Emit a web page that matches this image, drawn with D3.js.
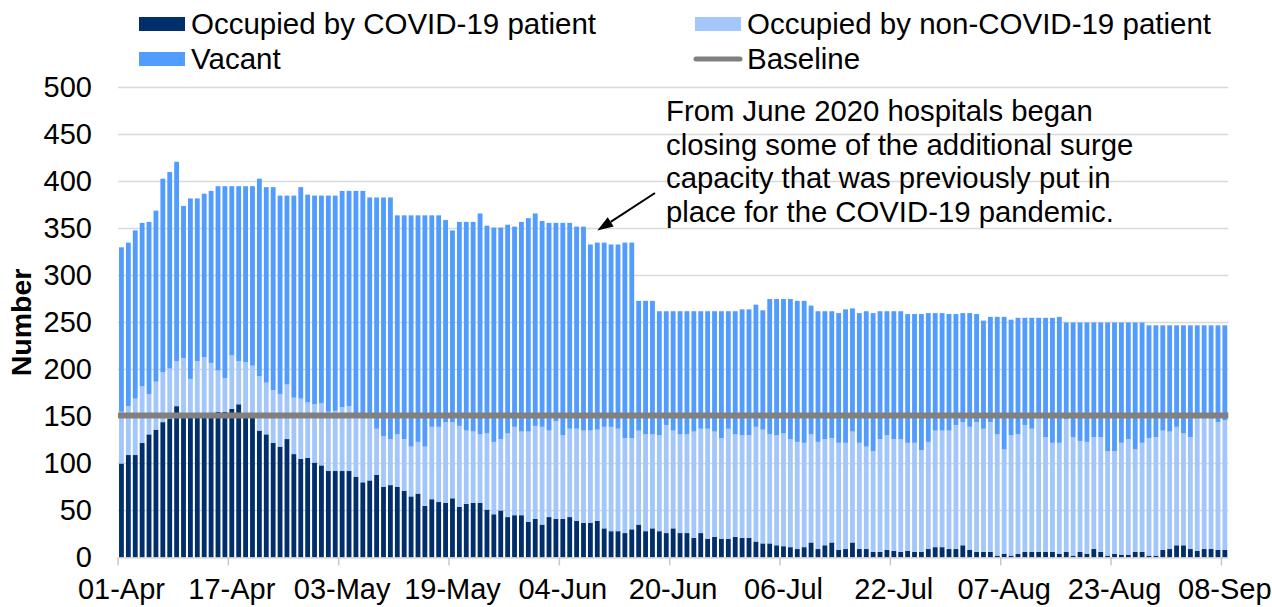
<!DOCTYPE html>
<html>
<head>
<meta charset="utf-8">
<script src="https://cdn.jsdelivr.net/npm/d3@7"></script>
<style>
  body { margin: 0; background: #fff; }
  text { font-family: 'Liberation Sans', Arial, sans-serif; fill: #000; }
</style>
</head>
<body>
<div id="chart"></div>
<script>
// daily bed counts from 01-Apr-2020
const covid = [
  100,109,109,122,131,136,144,148,161,153,152,150,152,150,155,155,
  158,163,152,150,135,131,122,118,126,110,105,106,101,98,92,92,
  92,92,86,80,82,88,75,77,75,71,65,68,55,62,59,58,
  63,54,57,58,58,51,46,50,43,45,45,38,41,35,43,41,
  41,43,39,37,37,39,31,28,28,26,30,35,28,31,28,26,
  31,26,26,21,26,20,22,20,20,22,21,21,17,15,15,13,
  12,11,9,11,16,9,13,16,8,9,16,9,9,6,6,8,
  7,6,7,6,6,9,11,11,9,9,13,8,6,6,6,2,
  4,2,4,6,6,6,6,6,4,6,2,6,4,9,6,2,
  4,3,3,6,6,2,2,8,9,13,13,9,7,9,9,8,
  8
]
const nonCovid = [
  55,52,60,60,43,51,53,53,48,59,38,59,61,57,44,36,
  57,46,56,54,58,55,56,56,58,60,64,59,62,66,63,64,
  68,69,66,72,68,49,54,49,56,55,53,55,63,77,80,86,
  81,86,78,76,73,81,77,76,89,94,89,96,99,104,92,104,
  89,94,98,98,98,97,108,111,109,101,97,100,103,100,102,115,
  104,105,105,113,111,117,112,107,117,109,109,109,122,121,116,117,
  120,115,114,111,115,114,113,111,114,113,118,113,109,107,120,122,
  119,120,115,116,108,114,124,124,126,132,131,131,138,131,138,129,
  111,128,127,135,131,142,122,116,118,141,126,118,119,119,122,111,
  109,119,123,109,116,125,126,127,125,126,119,119,141,139,139,136,
  138
]
const vacant = [
  175,174,179,174,183,182,206,209,212,162,192,173,174,183,196,204,
  180,186,187,191,210,208,216,211,201,215,225,221,222,221,230,229,
  230,229,238,238,233,246,254,257,233,238,246,241,246,225,225,215,
  204,217,222,223,235,221,228,225,222,213,223,227,226,219,221,211,
  226,219,215,217,198,199,196,194,196,208,208,138,142,142,132,121,
  127,131,131,128,125,125,128,135,125,131,134,134,130,127,144,145,
  143,149,150,151,137,139,136,135,138,142,131,138,144,147,136,132,
  136,136,137,137,145,137,125,125,124,118,116,121,115,115,112,125,
  141,123,124,114,118,107,127,133,134,103,122,126,127,122,122,137,
  137,128,124,135,128,120,119,112,113,108,115,119,99,99,99,103,
  101
]
const baseline = 151

const tickLabels = ['01-Apr', '17-Apr', '03-May', '19-May', '04-Jun', '20-Jun',
                    '06-Jul', '22-Jul', '07-Aug', '23-Aug', '08-Sep']
const yTicks = [0, 50, 100, 150, 200, 250, 300, 350, 400, 450, 500]

const seriesKeys = ['covid', 'nonCovid', 'vacant']
const seriesNames = ['Occupied by COVID-19 patient', 'Occupied by non-COVID-19 patient', 'Vacant']
const noteLines = ['From June 2020 hospitals began',
                   'closing some of the additional surge',
                   'capacity that was previously put in',
                   'place for the COVID-19 pandemic.']
const noteDay = '09-Jun'

const colors = { covid: '#002f6c', nonCovid: '#a4c7fb', vacant: '#529cff' }

const w = 1272
const h = 607
const plotL = 118
const plotR = 1228.3
const plotT = 87.5
const plotB = 557.5
const fs = 29

const fmt = d3.timeFormat('%d-%b')
const start = new Date(2020, 3, 1)
const days = d3.timeDay.range(start, d3.timeDay.offset(start, covid.length)).map(fmt)

const rows = days.map((d, i) => ({ day: d, covid: covid[i], nonCovid: nonCovid[i], vacant: vacant[i] }))

const xScale = d3.scaleBand()
                .domain(days)
                .range([plotL, plotR])
                .paddingInner(0.3)
                .paddingOuter(0.15)

const yScale = d3.scaleLinear()
                .domain([0, 500])
                .range([plotB, plotT])

const svg = d3.select('#chart')
            .append('svg')
            .attr('width', w)
            .attr('height', h)

// gridlines
svg.append('g')
    .selectAll('line')
    .data(yTicks.filter(v => v > 0))
    .enter()
    .append('line')
    .attr('x1', plotL)
    .attr('x2', plotR)
    .attr('y1', d => yScale(d))
    .attr('y2', d => yScale(d))
    .attr('stroke', '#d9d9d9')
    .attr('stroke-width', 1.5)

// stacked bars
const stacked = d3.stack().keys(seriesKeys)(rows)

svg.append('g')
    .selectAll('g')
    .data(stacked)
    .enter()
    .append('g')
    .attr('fill', d => colors[d.key])
    .selectAll('rect')
    .data(d => d)
    .enter()
    .append('rect')
    .attr('x', d => xScale(d.data.day))
    .attr('width', xScale.bandwidth())
    .attr('y', d => yScale(d[1]))
    .attr('height', d => yScale(d[0]) - yScale(d[1]))

// baseline
svg.append('line')
    .attr('x1', plotL)
    .attr('x2', plotR)
    .attr('y1', yScale(baseline))
    .attr('y2', yScale(baseline))
    .attr('stroke', '#808080')
    .attr('stroke-width', 6)

// x axis
const xAxis = d3.axisBottom(xScale).tickValues(tickLabels).tickSizeOuter(0).tickSizeInner(8).tickPadding(13)
const gx = svg.append('g')
    .attr('transform', `translate(0, ${plotB})`)
    .call(xAxis)
gx.attr('font-family', null).attr('font-size', fs)
gx.select('.domain').attr('stroke', '#d9d9d9').attr('stroke-width', 1.5)
gx.selectAll('.tick line')
    .attr('stroke', '#c8c8c8')
    .attr('stroke-width', 1.5)
    .attr('x1', -xScale.step() / 2)
    .attr('x2', -xScale.step() / 2)

// y axis
const yAxis = d3.axisLeft(yScale).tickValues(yTicks).tickSize(0).tickPadding(26)
const gy = svg.append('g')
    .attr('transform', `translate(${plotL}, 0)`)
    .call(yAxis)
gy.attr('font-family', null).attr('font-size', fs)
gy.select('.domain').remove()

svg.append('text')
    .attr('transform', `translate(31, ${(plotT + plotB) / 2}) rotate(-90)`)
    .attr('text-anchor', 'middle')
    .attr('font-size', 28.5)
    .attr('font-weight', 'bold')
    .text('Number')

// legend
const legend = [
  { name: seriesNames[0], color: colors.covid, x: 139, y: 24, type: 'box' },
  { name: seriesNames[1], color: colors.nonCovid, x: 695, y: 24, type: 'box' },
  { name: seriesNames[2], color: colors.vacant, x: 139, y: 59, type: 'box' },
  { name: 'Baseline', color: '#808080', x: 695, y: 59, type: 'line' }
]
const lg = svg.append('g')
              .selectAll('g')
              .data(legend)
              .enter()
              .append('g')
              .attr('transform', d => `translate(${d.x}, ${d.y})`)
lg.filter(d => d.type === 'box')
    .append('rect')
    .attr('x', 0)
    .attr('y', -7)
    .attr('width', 46)
    .attr('height', 14)
    .attr('fill', d => d.color)
lg.filter(d => d.type === 'line')
    .append('line')
    .attr('x1', 1)
    .attr('x2', 45)
    .attr('stroke', d => d.color)
    .attr('stroke-width', 5)
    .attr('stroke-linecap', 'round')
lg.append('text')
    .attr('x', 52)
    .attr('y', 10)
    .attr('font-size', 29.5)
    .text(d => d.name)

// annotation
svg.append('g')
    .selectAll('text')
    .data(noteLines)
    .enter()
    .append('text')
    .attr('x', 666)
    .attr('y', (d, i) => 121 + i * 33.7)
    .attr('font-size', 29.3)
    .text(d => d)

const idx = days.indexOf(noteDay)
const tipX = xScale(noteDay) + xScale.bandwidth() / 2
const tipY = yScale(covid[idx] + nonCovid[idx] + vacant[idx]) - 12
const fromX = 655
const fromY = 193
const ang = Math.atan2(tipY - fromY, tipX - fromX)
const headL = 16
const headW = 5.5
const bx = tipX - headL * Math.cos(ang)
const by = tipY - headL * Math.sin(ang)

svg.append('line')
    .attr('x1', fromX)
    .attr('y1', fromY)
    .attr('x2', bx)
    .attr('y2', by)
    .attr('stroke', '#000')
    .attr('stroke-width', 2)

svg.append('path')
    .attr('d', `M${tipX},${tipY}L${bx + headW * Math.sin(ang)},${by - headW * Math.cos(ang)}L${bx - headW * Math.sin(ang)},${by + headW * Math.cos(ang)}Z`)
    .attr('fill', '#000')
</script>
</body>
</html>
